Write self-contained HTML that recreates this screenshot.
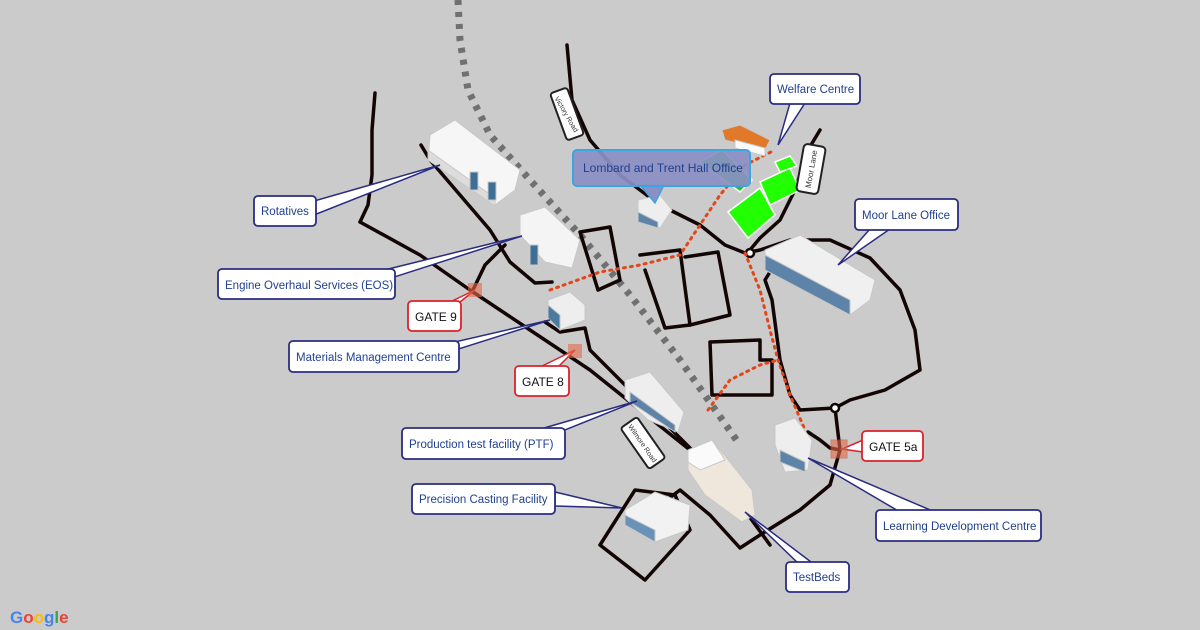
<!DOCTYPE html>
<html><head><meta charset="utf-8"><style>
html,body{margin:0;padding:0;background:#cbcbcb;}
svg{display:block}
text{font-family:"Liberation Sans",sans-serif;}
</style></head><body>
<svg width="1200" height="630" viewBox="0 0 1200 630" xmlns="http://www.w3.org/2000/svg">
<rect width="1200" height="630" fill="#cbcbcb"/>
<!-- gray triangle rail -->
<path d="M458,0 L460,40 L468,90 L490,135 L530,180 L580,235 L630,295 L680,360 L740,445" fill="none" stroke="#707070" stroke-width="7" stroke-dasharray="5,7"/>
<!-- roads -->
<g fill="none" stroke="#140505" stroke-width="3.5" stroke-linejoin="round" stroke-linecap="round">
<path d="M375,93 L372,130 L372,175 L368,205 L360,222"/>
<path d="M360,222 L420,255 L470,290 L530,330 L590,370 L640,410 L690,450 L730,490 L770,545"/>
<path d="M421,145 L430,160 L460,195 L490,230 L510,262 L535,283 L552,282"/>
<path d="M472,292 L485,265 L500,250 L505,245"/>
<path d="M545,322 L560,332 L585,328 L590,350 L630,390 L672,430 L712,470 L745,510"/>
<path d="M567,45 L572,100 L590,140 L620,175 L660,205 L700,225 L725,245 L745,253 L760,250 L790,240 L830,240 L870,258 L900,290 L915,330 L920,370 L885,390 L850,400 L835,408 L800,410 L790,395 L780,360 L772,300 L765,280 L770,272"/>
<path d="M835,408 L840,450 L830,485 L800,510 L760,535 L740,548 L710,515 L680,490 L640,520"/>
<path d="M820,130 L808,150 L795,190 L780,220 L760,238 L750,250"/>
<path d="M600,545 L645,580 L690,530 L675,495 L635,490 L600,545"/>
<path d="M580,232 L610,227 L620,280 L598,290 L580,232"/>
<path d="M640,255 L680,250 L690,325 L665,328 L645,270"/>
<path d="M685,257 L718,252 L730,315 L690,325"/>
<path d="M710,342 L760,340 L760,360 L772,360 L772,395 L712,395 Z"/>
<path d="M808,432 L820,440 L830,448 L840,450"/>
</g>
<circle cx="750" cy="253" r="4" fill="#fff" stroke="#140505" stroke-width="2.5"/>
<circle cx="835" cy="408" r="4" fill="#fff" stroke="#140505" stroke-width="2.5"/>
<!-- red dotted paths -->
<g fill="none" stroke="#e2471a" stroke-width="3" stroke-dasharray="2,5" stroke-linecap="round">
<path d="M550,290 L600,272 L640,265 L680,255 L700,225 L720,195 L745,165 L775,150"/>
<path d="M745,253 L760,290 L770,330 L778,360 L790,395 L805,430"/>
<path d="M708,410 L730,380 L760,365 L778,360"/>
</g>
<!-- green fields -->
<polygon points="700,162 722,150 752,180 740,192" fill="#1fc81f" stroke="#fff" stroke-width="1.5"/>
<polygon points="760,182 790,168 800,190 770,205" fill="#22ff00" stroke="#fff" stroke-width="1.5"/>
<polygon points="728,212 760,188 775,215 748,238" fill="#22ff00" stroke="#fff" stroke-width="1.5"/>
<polygon points="775,162 790,156 797,166 780,172" fill="#22ff00" stroke="#fff" stroke-width="1.5"/>
<!-- road labels -->
<g transform="translate(567,114) rotate(-20)"><rect x="-9" y="-25" width="18" height="50" rx="3" fill="#fff" stroke="#222" stroke-width="2"/><text transform="rotate(80)" x="0" y="3" font-size="7" text-anchor="middle" fill="#333">Victory Road</text></g>
<g transform="translate(811,169) rotate(10)"><rect x="-11" y="-24" width="22" height="48" rx="4" fill="#fff" stroke="#222" stroke-width="2"/><text transform="rotate(-90)" x="0" y="3" font-size="8" text-anchor="middle" fill="#333">Moor Lane</text></g>
<g transform="translate(643,443) rotate(-35)"><rect x="-10" y="-25" width="20" height="50" rx="3" fill="#fff" stroke="#222" stroke-width="2"/><text transform="rotate(90)" x="0" y="3" font-size="7" text-anchor="middle" fill="#333">Wilmore Road</text></g>
<!-- buildings -->
<g stroke="#c8c8c8" stroke-width="1">
<polygon points="430,135 455,120 520,170 515,190 495,205 428,160" fill="#f6f6f6"/>
<polygon points="428,150 495,198 495,206 428,160" fill="#dcdcdc"/>
<rect x="470" y="172" width="8" height="18" fill="#3d6e96"/>
<rect x="488" y="182" width="8" height="18" fill="#3d6e96"/>
<polygon points="520,215 545,207 580,240 572,268 545,262 520,235" fill="#f4f4f4"/>
<rect x="530" y="245" width="8" height="20" fill="#3d6e96"/>
<polygon points="548,300 570,292 585,305 585,320 560,330 548,318" fill="#eee"/>
<polygon points="548,305 560,315 560,330 548,318" fill="#4a7aa0"/>
<polygon points="638,200 660,195 672,210 660,228 638,222" fill="#eee"/>
<polygon points="638,212 658,222 658,228 638,222" fill="#5d84a8"/>
<polygon points="625,380 650,372 684,412 678,432 648,420 625,398" fill="#eee"/>
<polygon points="630,392 675,425 675,432 630,402" fill="#5d84a8"/>
<polygon points="625,510 655,492 690,505 688,530 655,542 625,525" fill="#f2f2f2"/>
<polygon points="625,515 655,530 655,542 625,525" fill="#6a92b8"/>
<polygon points="688,450 712,440 730,462 752,490 755,515 742,522 705,495 688,470" fill="#efe6dc"/>
<polygon points="688,450 712,440 725,460 700,470 688,462" fill="#fafafa"/>
<polygon points="765,250 800,235 875,280 870,300 850,315 765,270" fill="#f0f0f0"/>
<polygon points="765,255 850,300 850,315 765,270" fill="#5d84a8"/>
<polygon points="775,425 795,418 812,440 808,470 785,472 775,445" fill="#eee"/>
<polygon points="780,450 805,462 805,472 780,462" fill="#5d84a8"/>
<polygon points="722,130 740,125 770,140 765,150 725,140" fill="#e07a2a"/>
<polygon points="735,140 765,148 765,156 735,148" fill="#fafafa"/>
</g>
<!-- callout tails -->
<g fill="#fff" stroke="#2a2c80" stroke-width="1.5">
<polygon points="790,103 805,103 778,145"/>
<polygon points="870,229 890,229 838,265"/>
<polygon points="300,205 314,215 440,165"/>
<polygon points="360,276 360,288 522,236"/>
<polygon points="420,350 430,358 550,320"/>
<polygon points="520,435 540,440 637,401"/>
<polygon points="555,492 555,506 622,508"/>
<polygon points="900,512 935,512 808,458"/>
<polygon points="800,565 815,565 745,512"/>
</g>
<g fill="#fff" stroke="#d9222a" stroke-width="1.5">
<polygon points="450,302 460,302 475,290"/>
<polygon points="540,367 558,367 575,350"/>
<polygon points="863,440 863,452 842,449"/>
</g>
<!-- gate markers -->
<rect x="468" y="283" width="14" height="14" fill="#e26a4a" opacity="0.6"/>
<rect x="568" y="344" width="14" height="14" fill="#e26a4a" opacity="0.6"/>
<rect x="831" y="440" width="16" height="18" fill="#e26a4a" opacity="0.6" stroke="#d05030"/>
<!-- boxes -->
<g fill="#fff" stroke="#2a2c80" stroke-width="1.8">
<rect x="770" y="74" width="90" height="30" rx="4"/>
<rect x="855" y="199" width="103" height="31" rx="4"/>
<rect x="254" y="196" width="62" height="30" rx="4"/>
<rect x="218" y="269" width="177" height="30" rx="4"/>
<rect x="289" y="341" width="170" height="31" rx="4"/>
<rect x="402" y="428" width="163" height="31" rx="4"/>
<rect x="412" y="484" width="143" height="30" rx="4"/>
<rect x="876" y="510" width="165" height="31" rx="4"/>
<rect x="786" y="562" width="63" height="30" rx="4"/>
</g>
<g fill="#fff" stroke="#d9222a" stroke-width="1.8">
<rect x="408" y="301" width="53" height="30" rx="4"/>
<rect x="515" y="366" width="54" height="30" rx="4"/>
<rect x="862" y="431" width="61" height="30" rx="4"/>
</g>
<g font-size="11.5" fill="#1f3f8f">
<text x="777" y="93">Welfare Centre</text>
<text x="862" y="219">Moor Lane Office</text>
<text x="261" y="215">Rotatives</text>
<text x="225" y="289">Engine Overhaul Services (EOS)</text>
<text x="296" y="361">Materials Management Centre</text>
<text x="409" y="448">Production test facility (PTF)</text>
<text x="419" y="503">Precision Casting Facility</text>
<text x="883" y="530">Learning Development Centre</text>
<text x="793" y="581">TestBeds</text>
</g>
<g font-size="12" fill="#111">
<text x="415" y="321">GATE 9</text>
<text x="522" y="386">GATE 8</text>
<text x="869" y="451">GATE 5a</text>
</g>
<!-- Lombard -->
<polygon points="640,185 664,185 655,203" fill="#8b8fc4" stroke="#3aa6e0" stroke-width="1.5"/>
<rect x="573" y="150" width="177" height="36" rx="4" fill="#8b8fc4" fill-opacity="0.92" stroke="#3aa6e0" stroke-width="2"/>
<text x="583" y="172" font-size="12" fill="#1f3f8f">Lombard and Trent Hall Office</text>
<!-- Google -->
<text x="10" y="623" font-size="17" font-weight="bold"><tspan fill="#4285f4">G</tspan><tspan fill="#ea4335">o</tspan><tspan fill="#fbbc05">o</tspan><tspan fill="#4285f4">g</tspan><tspan fill="#34a853">l</tspan><tspan fill="#ea4335">e</tspan></text>
</svg>
</body></html>
